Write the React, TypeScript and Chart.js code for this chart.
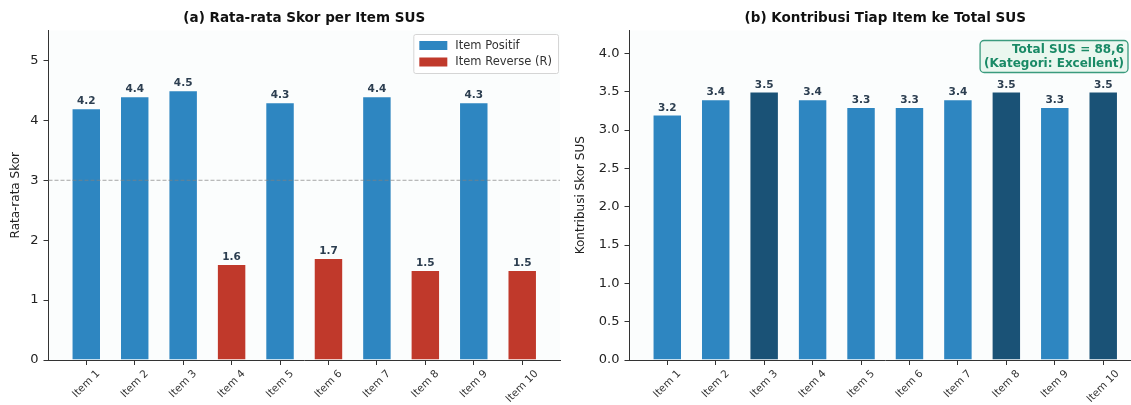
import { useEffect, useRef } from 'react';
import { Chart, registerables } from 'chart.js';

Chart.register(...registerables);

// ---------- data ----------
const items = ['Item 1', 'Item 2', 'Item 3', 'Item 4', 'Item 5', 'Item 6', 'Item 7', 'Item 8', 'Item 9', 'Item 10'];
const meanScores = [4.2, 4.4, 4.5, 1.6, 4.3, 1.7, 4.4, 1.5, 4.3, 1.5];
const isReverse = [false, false, false, true, false, true, false, true, false, true];
const contributions = [3.2, 3.4, 3.5, 3.4, 3.3, 3.3, 3.4, 3.5, 3.3, 3.5];
const isTopItem = [false, false, true, false, false, false, false, true, false, true];
const legendLabels = ['Item Positif', 'Item Reverse (R)'];
const leftTitle = '(a) Rata-rata Skor per Item SUS';
const rightTitle = '(b) Kontribusi Tiap Item ke Total SUS';
const leftYLabel = 'Rata-rata Skor';
const rightYLabel = 'Kontribusi Skor SUS';
const neutralLine = 3;
const annotationLines = ['Total SUS = 88,6', '(Kategori: Excellent)'];
const leftYTicks = [0, 1, 2, 3, 4, 5];
const rightYTicks = [0, 0.5, 1, 1.5, 2, 2.5, 3, 3.5, 4];
const leftYMax = 5.5;
const rightYMax = 4.3;

// ---------- styles ----------
const FONT = "'DejaVu Sans', 'Liberation Sans', sans-serif";
const BLUE = '#2E86C1';
const RED = '#C0392B';
const DARK = '#1A5276';
const LABEL = '#2C3E50';
const AXIS = '#333333';
const PLOT_BG = '#FBFDFD';
const XTICK_SIZE = 10.5;

type Extra = {
  title: string;
  fmt: (v: number) => string;
  hline?: number;
  legend?: { labels: string[]; colors: string[] };
  annotation?: string[];
};

function makeOverlay(extra: Extra) {
  return {
    id: 'overlay',
    beforeDraw(chart: any) {
      const { ctx, chartArea: a } = chart;
      ctx.save();
      ctx.fillStyle = '#ffffff';
      ctx.fillRect(0, 0, chart.width, chart.height);
      ctx.fillStyle = PLOT_BG;
      ctx.fillRect(a.left, a.top, a.right - a.left, a.bottom - a.top);
      ctx.restore();
    },
    afterDraw(chart: any) {
      // x tick labels, rotated 45 deg and centred under each tick
      const { ctx, chartArea: a } = chart;
      const xs = chart.scales.x;
      ctx.save();
      ctx.font = `${XTICK_SIZE}px ${FONT}`;
      ctx.fillStyle = '#333';
      ctx.textAlign = 'center';
      ctx.textBaseline = 'middle';
      const s = Math.SQRT1_2;
      const H = XTICK_SIZE * 1.1;
      items.forEach((lab, i) => {
        const x = xs.getPixelForValue(i);
        const L = ctx.measureText(lab).width;
        const top = a.bottom + 5 + 3;
        const cy = top + ((L + H) * s) / 2;
        ctx.save();
        ctx.translate(x, cy);
        ctx.rotate(-Math.PI / 4);
        ctx.fillText(lab, 0, 0);
        ctx.restore();
      });
      ctx.restore();
    },
    afterDatasetsDraw(chart: any) {
      const { ctx, chartArea: a } = chart;
      const ys = chart.scales.y;
      ctx.save();
      // title
      ctx.fillStyle = '#111';
      ctx.font = `bold 13.5px ${FONT}`;
      ctx.textAlign = 'center';
      ctx.textBaseline = 'alphabetic';
      ctx.fillText(extra.title, (a.left + a.right) / 2, a.top - 9);
      // reference line
      if (extra.hline !== undefined) {
        const y = ys.getPixelForValue(extra.hline);
        ctx.strokeStyle = 'rgba(128,128,128,0.7)';
        ctx.lineWidth = 1;
        ctx.setLineDash([4, 2]);
        ctx.beginPath();
        ctx.moveTo(a.left, y);
        ctx.lineTo(a.right, y);
        ctx.stroke();
        ctx.setLineDash([]);
      }
      // value labels
      const meta = chart.getDatasetMeta(0);
      const data = chart.data.datasets[0].data as any[];
      ctx.fillStyle = LABEL;
      ctx.font = `bold 10.5px ${FONT}`;
      ctx.textAlign = 'center';
      ctx.textBaseline = 'alphabetic';
      meta.data.forEach((bar: any, i: number) => {
        const v = data[i].y;
        ctx.fillText(extra.fmt(v), bar.x, ys.getPixelForValue(v) - 4);
      });
      // legend
      if (extra.legend) {
        ctx.font = `11.5px ${FONT}`;
        const tw = Math.max(...extra.legend.labels.map((l) => ctx.measureText(l).width));
        const w = 6 + 28 + 8 + tw + 6;
        const h = 39;
        const x0 = a.right - 2 - w;
        const y0 = a.top + 3.5;
        ctx.fillStyle = 'rgba(255,255,255,0.85)';
        ctx.strokeStyle = '#d5d5d5';
        ctx.lineWidth = 1;
        ctx.beginPath();
        ctx.roundRect(x0 + 0.5, y0 + 0.5, w, h, 2);
        ctx.fill();
        ctx.stroke();
        extra.legend.labels.forEach((lab, i) => {
          const cy = y0 + 11.5 + i * 16.5;
          ctx.fillStyle = extra.legend!.colors[i];
          ctx.fillRect(x0 + 6, cy - 4.5, 28, 9);
          ctx.fillStyle = '#333';
          ctx.textAlign = 'left';
          ctx.textBaseline = 'middle';
          ctx.fillText(lab, x0 + 6 + 28 + 8, cy + 0.5);
        });
      }
      // annotation
      if (extra.annotation) {
        ctx.font = `bold 12px ${FONT}`;
        const tw = Math.max(...extra.annotation.map((l) => ctx.measureText(l).width));
        const w = tw + 8;
        const h = 32;
        const right = a.right - 13;
        const x0 = right - w;
        const y0 = a.top + 10;
        ctx.fillStyle = '#EAF7EF';
        ctx.strokeStyle = '#3A9B7E';
        ctx.lineWidth = 1.3;
        ctx.beginPath();
        ctx.roundRect(x0, y0, w, h, 4);
        ctx.fill();
        ctx.stroke();
        ctx.fillStyle = '#1A8A66';
        ctx.textAlign = 'right';
        ctx.textBaseline = 'middle';
        extra.annotation.forEach((l, i) => {
          ctx.fillText(l, right - 4, y0 + 9.5 + i * 13.5);
        });
      }
      ctx.restore();
    },
  };
}

function buildConfig(opts: {
  values: number[];
  colors: string[];
  yMax: number;
  yTicks: number[];
  yFmt: (v: number) => string;
  yLabel: string;
  yWidth: number;
  padRight: number;
  extra: Extra;
}) {
  return {
    type: 'bar' as const,
    data: {
      datasets: [
        {
          data: opts.values.map((v, i) => ({ x: i, y: v })),
          backgroundColor: opts.colors,
          borderColor: 'rgba(255,255,255,0.7)',
          borderWidth: 0.8,
          barPercentage: 0.6,
          categoryPercentage: 1,
        },
      ],
    },
    options: {
      animation: false,
      responsive: false,
      devicePixelRatio: 1,
      layout: { padding: { top: 30.5, right: opts.padRight, left: 0, bottom: 0 } },
      plugins: { legend: { display: false }, tooltip: { enabled: false }, title: { display: false } },
      scales: {
        x: {
          type: 'linear',
          offset: false,
          min: -0.78,
          max: 9.78,
          afterBuildTicks: (s: any) => {
            s.ticks = items.map((_, i) => ({ value: i }));
          },
          afterFit: (s: any) => {
            s.height = 45;
          },
          grid: { display: true, offset: false, drawOnChartArea: false, drawTicks: true, tickLength: 5, color: AXIS },
          border: { display: true, color: AXIS, width: 1 },
          ticks: {
            display: false,
            autoSkip: false,
          },
        },
        y: {
          type: 'linear',
          min: 0,
          max: opts.yMax,
          afterBuildTicks: (s: any) => {
            s.ticks = opts.yTicks.map((v) => ({ value: v }));
          },
          afterFit: (s: any) => {
            s.width = opts.yWidth;
          },
          grid: { display: true, drawOnChartArea: false, drawTicks: true, tickLength: 5, color: AXIS },
          border: { display: true, color: AXIS, width: 1 },
          ticks: {
            padding: 5,
            color: '#222',
            font: { family: FONT, size: 13 },
            callback: (v: any) => opts.yFmt(Number(v)),
          },
          title: {
            display: true,
            text: opts.yLabel,
            color: '#222',
            font: { family: FONT, size: 12 },
            padding: { top: 9, bottom: 0 },
          },
        },
      },
    },
    plugins: [makeOverlay(opts.extra)],
  };
}

function BarChart(props: { width: number; height: number; config: any }) {
  const ref = useRef<HTMLCanvasElement | null>(null);
  useEffect(() => {
    if (!ref.current) return;
    const chart = new Chart(ref.current, props.config);
    return () => chart.destroy();
  }, []);
  return <canvas ref={ref} width={props.width} height={props.height} style={{ display: 'block', width: props.width, height: props.height }} />;
}

export default function App() {
  const leftConfig = buildConfig({
    values: meanScores,
    colors: isReverse.map((r) => (r ? RED : BLUE)),
    yMax: leftYMax,
    yTicks: leftYTicks,
    yFmt: (v) => String(v),
    yLabel: leftYLabel,
    yWidth: 48.5,
    padRight: 5,
    extra: {
      title: leftTitle,
      fmt: (v) => v.toFixed(1),
      hline: neutralLine,
      legend: { labels: legendLabels, colors: [BLUE, RED] },
    },
  });
  const rightConfig = buildConfig({
    values: contributions,
    colors: isTopItem.map((t) => (t ? DARK : BLUE)),
    yMax: rightYMax,
    yTicks: rightYTicks,
    yFmt: (v) => v.toFixed(1),
    yLabel: rightYLabel,
    yWidth: 64.5,
    padRight: 4,
    extra: {
      title: rightTitle,
      fmt: (v) => v.toFixed(1),
      annotation: annotationLines,
    },
  });
  return (
    <div style={{ position: 'absolute', left: 0, top: 0, width: 1131, height: 405, overflow: 'hidden', background: '#fff' }}>
      <div style={{ position: 'absolute', left: 0, top: 0 }}>
        <BarChart width={565} height={405} config={leftConfig} />
      </div>
      <div style={{ position: 'absolute', left: 565, top: 0 }}>
        <BarChart width={580} height={405} config={rightConfig} />
      </div>
    </div>
  );
}
